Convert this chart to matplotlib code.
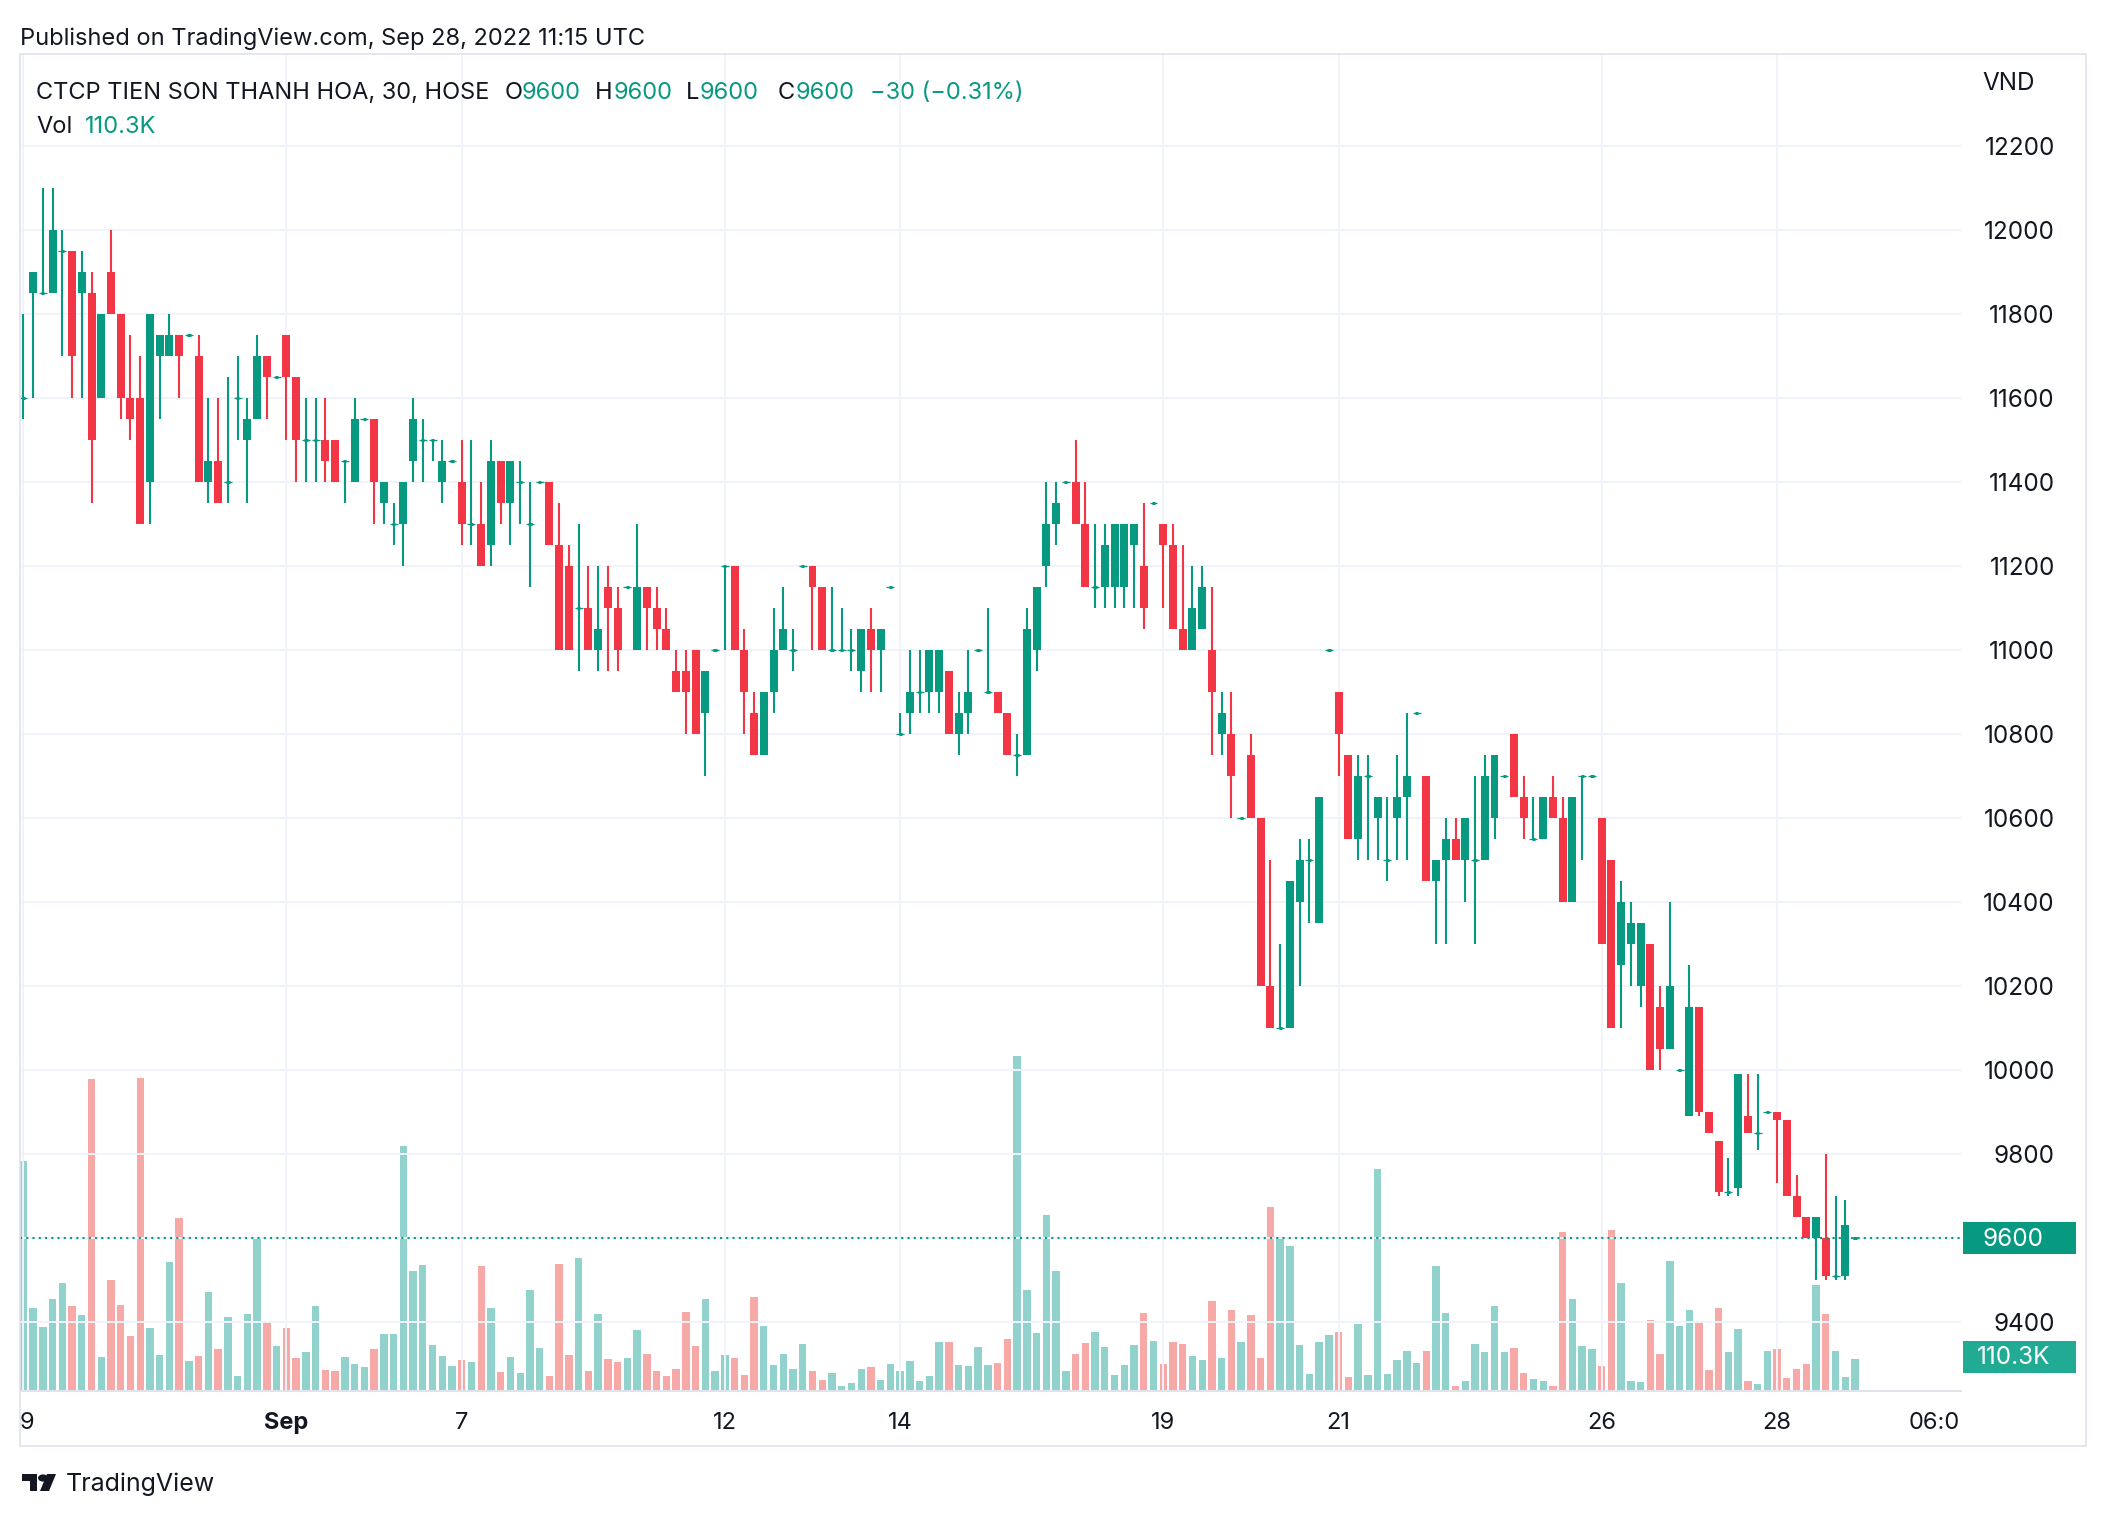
import numpy as np
import matplotlib.pyplot as plt
import matplotlib.transforms as mtransforms
from matplotlib.patches import Rectangle, Circle, Polygon

plt.rcParams['font.family'] = ['Inter', 'DejaVu Sans']

# 30-minute candles, Aug 29 - Sep 28 2022 (9 bars per session)
opens = [
    11600, 11850, 11850, 11850, 11950, 11950, 11850, 11850, 11600, 11900,
    11800, 11600, 11600, 11400, 11700, 11700, 11750, 11750, 11700, 11400,
    11450, 11400, 11600, 11500, 11550, 11700, 11650, 11750, 11650, 11500,
    11500, 11500, 11500, 11450, 11400, 11550, 11550, 11350, 11300, 11300,
    11450, 11500, 11500, 11400, 11450, 11400, 11300, 11300, 11250, 11450,
    11350, 11400, 11300, 11400, 11400, 11250, 11200, 11100, 11100, 11000,
    11150, 11100, 11150, 11000, 11150, 11100, 11050, 10950, 10950, 11000,
    10850, 11000, 11200, 11200, 11000, 10850, 10750, 10900, 11000, 11000,
    11200, 11200, 11150, 11000, 11000, 11000, 10950, 11050, 11000, 11150,
    10800, 10850, 10900, 10900, 10900, 10950, 10800, 10850, 11000, 10900,
    10900, 10850, 10750, 10750, 11000, 11200, 11300, 11400, 11400, 11300,
    11150, 11150, 11150, 11150, 11250, 11200, 11350, 11300, 11250, 11050,
    11000, 11050, 11000, 10800, 10800, 10600, 10750, 10600, 10200, 10100,
    10100, 10400, 10500, 10350, 11000, 10900, 10750, 10550, 10700, 10600,
    10500, 10600, 10650, 10850, 10700, 10450, 10500, 10550, 10500, 10500,
    10500, 10600, 10700, 10800, 10650, 10550, 10550, 10650, 10600, 10400,
    10700, 10700, 10600, 10500, 10250, 10300, 10200, 10300, 10150, 10050,
    10000, 9890, 10150, 9900, 9830, 9710, 9720, 9890, 9850, 9900,
    9900, 9880, 9700, 9650, 9600, 9600, 9510, 9510, 9600,
]
highs = [
    11800, 11900, 12100, 12100, 12000, 11950, 11950, 11900, 11800, 12000,
    11800, 11750, 11700, 11800, 11750, 11800, 11750, 11750, 11750, 11600,
    11600, 11650, 11700, 11600, 11750, 11700, 11650, 11750, 11650, 11600,
    11600, 11600, 11500, 11450, 11600, 11550, 11550, 11400, 11350, 11400,
    11600, 11550, 11500, 11500, 11450, 11500, 11500, 11400, 11500, 11450,
    11450, 11450, 11400, 11400, 11400, 11350, 11250, 11300, 11200, 11200,
    11200, 11150, 11150, 11300, 11150, 11150, 11100, 11000, 11000, 11000,
    10950, 11000, 11200, 11200, 11050, 10900, 10900, 11100, 11150, 11050,
    11200, 11200, 11150, 11150, 11100, 11050, 11050, 11100, 11050, 11150,
    10850, 11000, 11000, 11000, 11000, 10950, 10900, 11000, 11000, 11100,
    10900, 10850, 10800, 11100, 11150, 11400, 11400, 11400, 11500, 11400,
    11300, 11300, 11300, 11300, 11300, 11350, 11350, 11300, 11300, 11250,
    11200, 11200, 11150, 10900, 10900, 10600, 10800, 10600, 10500, 10300,
    10450, 10550, 10550, 10650, 11000, 10900, 10750, 10750, 10750, 10650,
    10650, 10750, 10850, 10850, 10700, 10500, 10600, 10600, 10600, 10700,
    10750, 10750, 10700, 10800, 10700, 10650, 10650, 10700, 10650, 10650,
    10700, 10700, 10600, 10500, 10450, 10400, 10350, 10300, 10200, 10400,
    10000, 10250, 10150, 9900, 9830, 9790, 9990, 9990, 9990, 9900,
    9900, 9880, 9750, 9650, 9650, 9800, 9700, 9690, 9600,
]
lows = [
    11550, 11600, 11850, 11850, 11700, 11600, 11600, 11350, 11600, 11800,
    11550, 11500, 11300, 11300, 11550, 11700, 11600, 11750, 11400, 11350,
    11350, 11350, 11500, 11350, 11550, 11550, 11650, 11500, 11400, 11400,
    11400, 11400, 11400, 11350, 11400, 11550, 11300, 11300, 11250, 11200,
    11400, 11400, 11450, 11350, 11450, 11250, 11250, 11200, 11200, 11300,
    11250, 11300, 11150, 11400, 11250, 11000, 11000, 10950, 11000, 10950,
    10950, 10950, 11150, 11000, 11000, 11000, 11000, 10900, 10800, 10800,
    10700, 11000, 11000, 11000, 10800, 10750, 10750, 10850, 11000, 10950,
    11200, 11000, 11000, 11000, 11000, 10950, 10900, 10900, 10900, 11150,
    10800, 10800, 10850, 10850, 10850, 10800, 10750, 10800, 11000, 10900,
    10850, 10750, 10700, 10750, 10950, 11150, 11250, 11400, 11300, 11150,
    11100, 11100, 11100, 11100, 11100, 11050, 11350, 11100, 11050, 11000,
    11000, 11050, 10750, 10750, 10600, 10600, 10600, 10200, 10100, 10100,
    10100, 10200, 10350, 10350, 11000, 10700, 10550, 10500, 10500, 10500,
    10450, 10500, 10500, 10850, 10450, 10300, 10300, 10500, 10400, 10300,
    10500, 10550, 10700, 10650, 10550, 10550, 10550, 10600, 10400, 10400,
    10500, 10700, 10300, 10100, 10100, 10200, 10150, 10000, 10000, 10050,
    10000, 9890, 9890, 9850, 9700, 9700, 9700, 9850, 9810, 9900,
    9730, 9700, 9650, 9600, 9500, 9500, 9500, 9500, 9600,
]
closes = [
    11600, 11900, 11850, 12000, 11950, 11700, 11900, 11500, 11800, 11800,
    11600, 11550, 11300, 11800, 11750, 11750, 11700, 11750, 11400, 11450,
    11350, 11400, 11600, 11550, 11700, 11650, 11650, 11650, 11500, 11500,
    11500, 11450, 11400, 11450, 11550, 11550, 11400, 11400, 11300, 11400,
    11550, 11500, 11500, 11450, 11450, 11300, 11300, 11200, 11450, 11350,
    11450, 11400, 11300, 11400, 11250, 11000, 11000, 11100, 11000, 11050,
    11100, 11000, 11150, 11150, 11100, 11050, 11000, 10900, 10900, 10800,
    10950, 11000, 11200, 11000, 10900, 10750, 10900, 11000, 11050, 11000,
    11200, 11150, 11000, 11000, 11000, 11000, 11050, 11000, 11050, 11150,
    10800, 10900, 10900, 11000, 11000, 10800, 10850, 10900, 11000, 10900,
    10850, 10750, 10750, 11050, 11150, 11300, 11350, 11400, 11300, 11150,
    11150, 11250, 11300, 11300, 11300, 11100, 11350, 11250, 11050, 11000,
    11100, 11150, 10900, 10850, 10700, 10600, 10600, 10200, 10100, 10100,
    10450, 10500, 10500, 10650, 11000, 10800, 10550, 10700, 10700, 10650,
    10500, 10650, 10700, 10850, 10450, 10500, 10550, 10500, 10600, 10500,
    10700, 10750, 10700, 10650, 10600, 10550, 10650, 10600, 10400, 10650,
    10700, 10700, 10300, 10100, 10400, 10350, 10350, 10000, 10050, 10200,
    10000, 10150, 9900, 9850, 9710, 9710, 9990, 9850, 9850, 9900,
    9880, 9700, 9650, 9600, 9650, 9510, 9510, 9630, 9600,
]
# volume in thousands of shares
volumes = [
    789, 286, 221, 317, 369, 293, 262, 1069, 117, 379,
    296, 190, 1072, 217, 124, 441, 593, 103, 121, 338,
    145, 255, 52, 265, 527, 238, 155, 217, 114, 134,
    293, 72, 69, 117, 93, 83, 145, 196, 196, 841,
    410, 431, 159, 121, 86, 107, 100, 427, 283, 65,
    117, 62, 345, 148, 52, 434, 124, 455, 69, 265,
    110, 100, 114, 210, 128, 69, 52, 76, 272, 155,
    314, 69, 124, 114, 55, 321, 224, 90, 128, 76,
    162, 69, 38, 62, 17, 28, 76, 83, 38, 93,
    69, 103, 34, 52, 169, 169, 90, 86, 152, 90,
    97, 179, 1148, 345, 200, 603, 410, 69, 128, 165,
    203, 152, 55, 90, 159, 269, 172, 93, 169, 162,
    121, 107, 307, 114, 276, 169, 259, 114, 631, 524,
    496, 159, 59, 169, 193, 203, 48, 228, 55, 762,
    59, 107, 138, 97, 138, 427, 269, 17, 34, 162,
    134, 290, 134, 148, 62, 41, 34, 17, 545, 317,
    155, 145, 86, 552, 369, 34, 31, 245, 128, 445,
    224, 279, 241, 72, 283, 134, 214, 34, 24, 138,
    145, 45, 76, 93, 362, 265, 138, 48, 110.3,
]

day_labels = ['9', 'Sep', '7', '12', '14', '19', '21', '26', '28']
day_starts = [0, 27, 45, 72, 90, 117, 135, 162, 180]
price_ticks = list(range(9400, 12201, 200))
last_price = 9600

UP, DOWN = '#089981', '#F23645'
UP_VOL, DOWN_VOL = '#92D2CC', '#F7A9A7'
TEXT = '#131722'
GRID = '#F0F3FA'
BORDER = '#E0E3EB'

W, H = 2106, 1516
fig = plt.figure(figsize=(W / 100, H / 100), dpi=100)
fig.patch.set_facecolor('white')


def fx(px):
    return px / W


def fy(py):
    return 1 - py / H


# pane in pixel coordinates of the output image
left, right, top, bottom = 20, 1961, 54, 1391
ax_vol = fig.add_axes([fx(left), fy(bottom), fx(right - left), (bottom - top) / H])
ax = fig.add_axes(ax_vol.get_position(), sharex=ax_vol)
ax.patch.set_visible(False)

o = np.array(opens, float)
h = np.array(highs, float)
l = np.array(lows, float)
c = np.array(closes, float)
v = np.array(volumes, float)
x = np.arange(len(o))
up = c >= o

# volume
ax_vol.bar(x, v, width=0.76, color=np.where(up, UP_VOL, DOWN_VOL), linewidth=0)
ax_vol.set_ylim(0, 4582)
ax_vol.set_yticks([])
ax_vol.set_xlim(-0.34, 198.88)
for s in ax_vol.spines.values():
    s.set_visible(False)

# grid
for p in price_ticks:
    ax.axhline(p, color=GRID, lw=1.4, zorder=0)
for d in day_starts:
    ax.axvline(d, color=GRID, lw=1.4, zorder=0)

# candles
cols = np.where(up, UP, DOWN)
ax.vlines(x, l, h, colors=cols, lw=1.5, zorder=2)
body = np.abs(c - o)
ax.bar(x, body, bottom=np.minimum(o, c), width=0.82, color=cols, linewidth=0, zorder=3)
doji = body == 0
ax.hlines(o[doji], x[doji] - 0.41, x[doji] + 0.41, colors=cols[doji], lw=0.9, zorder=3)
ax.hlines(o[doji], x[doji] - 0.17, x[doji] + 0.17, colors=cols[doji], lw=2.2, zorder=3)

ax.axhline(last_price, color=UP, lw=1.5, ls=(0, (1, 2)), zorder=4)

ax.set_ylim(9235.7, 12419)
ax.set_xlim(-0.34, 198.88)

# price scale (the last-price tag covers the 9600 level)
ax.yaxis.tick_right()
ax.set_yticks(price_ticks)
ax.set_yticklabels(['' if p == last_price else str(p) for p in price_ticks])
ax.tick_params(axis='y', length=0, pad=67.5, labelsize=17.5, labelcolor=TEXT)
for lbl in ax.get_yticklabels():
    lbl.set_horizontalalignment('right')

# time scale
ax.set_xticks([])
ax_vol.set_xticks([])
trans = mtransforms.blended_transform_factory(ax.transData, fig.transFigure)
for d, lab in zip(day_starts, day_labels):
    xpos = d + 0.4 if lab == '9' else d
    ax.text(xpos, fy(1423), lab, transform=trans, ha='center', va='center',
            fontsize=17, color=TEXT, fontweight='bold' if lab == 'Sep' else 'normal')
ax.text(196.1, fy(1423), '06:0', transform=trans, ha='center', va='center',
        fontsize=17, color=TEXT)

for name, s in ax.spines.items():
    s.set_visible(name == 'bottom')
    s.set_color(BORDER)
    s.set_linewidth(1.5)

# outer frame
fig.add_artist(Rectangle((fx(20), fy(1446)), fx(2086 - 20), (1446 - 54) / H,
                         transform=fig.transFigure, fill=False, ec=BORDER, lw=1.2))

# last price and volume tags
fig.add_artist(Rectangle((fx(1963), fy(1254)), fx(113), 32 / H, transform=fig.transFigure,
                         fc=UP, ec='none', zorder=5))
fig.text(fx(2043), fy(1239), '9600', ha='right', va='center', fontsize=17.5, color='white', zorder=6)
fig.add_artist(Rectangle((fx(1963), fy(1373)), fx(113), 32 / H, transform=fig.transFigure,
                         fc='#22AB94', ec='none', zorder=5))
fig.text(fx(2050), fy(1358), '110.3K', ha='right', va='center', fontsize=17.5, color='white', zorder=6)

fig.text(fx(1982), fy(84), 'VND', ha='left', va='center', fontsize=17.5, color=TEXT)

# header texts
fig.text(fx(20), fy(39), 'Published on TradingView.com, Sep 28, 2022 11:15 UTC',
         ha='left', va='center', fontsize=17, color=TEXT)
ty = fy(93)
fig.text(fx(36), ty, 'CTCP TIEN SON THANH HOA, 30, HOSE', ha='left', va='center', fontsize=17, color=TEXT)
for px, txt, colr in [(505, 'O', TEXT), (522, '9600', UP), (595, 'H', TEXT), (614, '9600', UP),
                      (686, 'L', TEXT), (700, '9600', UP), (778, 'C', TEXT), (796, '9600', UP),
                      (870, '\u221230 (\u22120.31%)', UP)]:
    fig.text(fx(px), ty, txt, ha='left', va='center', fontsize=17, color=colr)
fig.text(fx(36), fy(127), 'Vol', ha='left', va='center', fontsize=17, color=TEXT)
fig.text(fx(85), fy(127), '110.3K', ha='left', va='center', fontsize=17, color=UP)

# TradingView logo
fig.add_artist(Polygon([(fx(22), fy(1474)), (fx(37), fy(1474)), (fx(37), fy(1491)),
                        (fx(30), fy(1491)), (fx(30), fy(1481)), (fx(22), fy(1481))],
                       closed=True, transform=fig.transFigure, fc=TEXT, ec='none'))
fig.add_artist(Circle((fx(43), fy(1478)), 3.6 / H, transform=fig.transFigure, fc=TEXT, ec='none'))
fig.add_artist(Polygon([(fx(47), fy(1474)), (fx(56), fy(1474)), (fx(49), fy(1491)), (fx(40), fy(1491))],
                       closed=True, transform=fig.transFigure, fc=TEXT, ec='none'))
fig.text(fx(66), fy(1484), 'TradingView', ha='left', va='center', fontsize=18, color=TEXT)

fig.savefig('out.png', dpi=100)
